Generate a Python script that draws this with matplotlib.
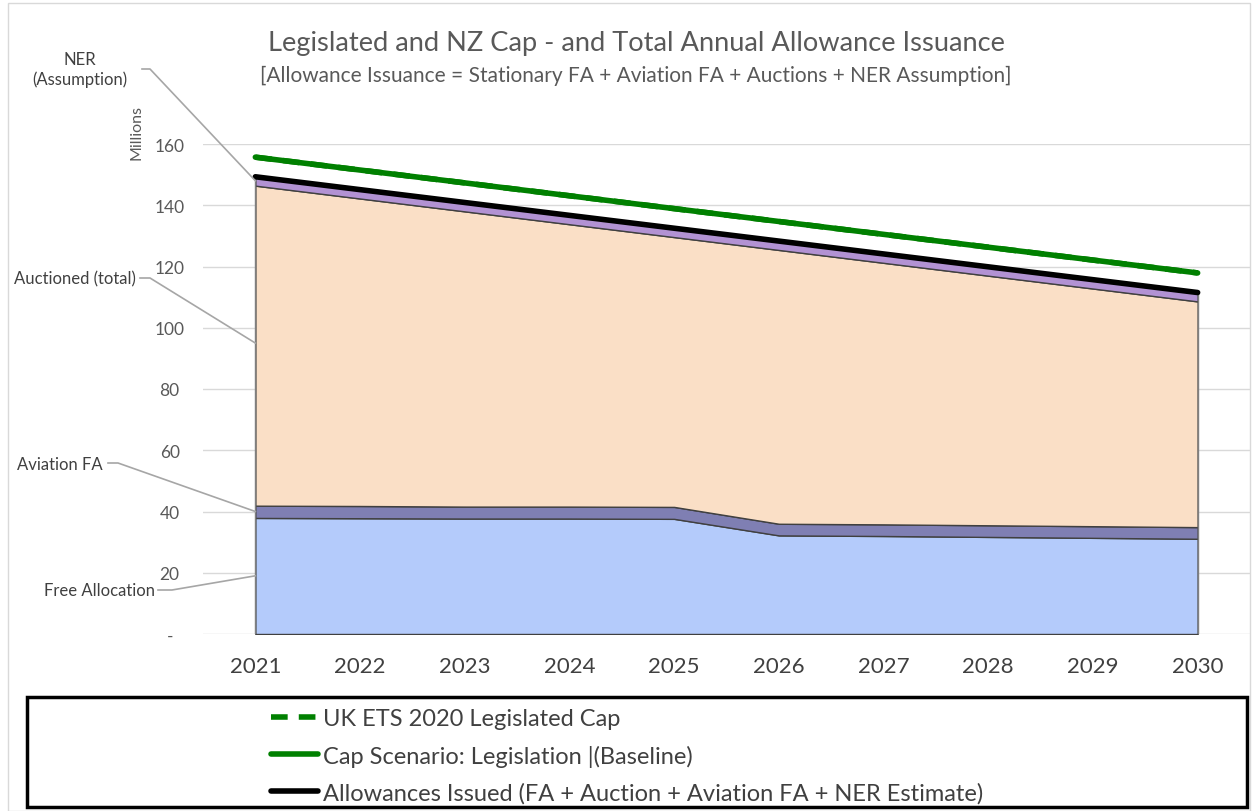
import matplotlib.pyplot as plt
from matplotlib.lines import Line2D
from matplotlib.patches import Rectangle

plt.rcParams['font.family'] = ['Lato', 'DejaVu Sans']

years = [2021, 2022, 2023, 2024, 2025, 2026, 2027, 2028, 2029, 2030]
free_allocation = [37.9, 37.8, 37.7, 37.7, 37.6, 32.2, 32.0, 31.7, 31.4, 31.1]
aviation_fa = [4.0, 4.0, 3.9, 3.9, 3.9, 3.8, 3.8, 3.8, 3.8, 3.8]
auctioned = [104.5, 100.4, 96.4, 92.2, 88.1, 89.4, 85.4, 81.5, 77.6, 73.7]
ner = [2.9, 2.9, 2.9, 2.9, 2.9, 2.9, 2.9, 2.9, 2.9, 2.9]
legislated_cap = [155.7, 151.5, 147.3, 143.1, 138.9, 134.7, 130.5, 126.3, 122.1, 117.9]
cap_baseline = [155.7, 151.5, 147.3, 143.1, 138.9, 134.7, 130.5, 126.3, 122.1, 117.9]

W, H = 1254, 812
fig = plt.figure(figsize=(W / 100, H / 100), dpi=100)
ax = fig.add_axes([203 / W, 1 - 635 / H, (1250 - 203) / W, (635 - 145) / H])

issued = [a + b + c + d for a, b, c, d in zip(free_allocation, aviation_fa, auctioned, ner)]

ax.stackplot(years, free_allocation, aviation_fa, auctioned, ner,
             colors=['#B4CBFB', '#7F7FB3', '#FADFC6', '#B292D3'],
             edgecolor='#404040', linewidth=1.0, zorder=2)
ax.vlines([years[0], years[-1]], 0, [issued[0], issued[-1]], color='#7F7F7F', lw=1, zorder=2)

ax.plot(years, legislated_cap, color='#008000', lw=4, ls=(0, (3, 2)), zorder=3,
        label='UK ETS 2020 Legislated Cap', solid_capstyle='round')
ax.plot(years, cap_baseline, color='#008000', lw=4, zorder=4,
        label='Cap Scenario: Legislation |(Baseline)', solid_capstyle='round')
ax.plot(years, issued, color='#000000', lw=4, zorder=5,
        label='Allowances Issued (FA + Auction + Aviation FA + NER Estimate)',
        solid_capstyle='round')

ax.set_xlim(2020.5, 2030.5)
ax.set_ylim(0, 160)
ax.set_yticks(range(0, 161, 20))
ax.set_yticklabels(['-'] + [str(v) for v in range(20, 161, 20)])
ax.set_xticks(years)
ax.grid(axis='y', color='#D9D9D9', lw=1, zorder=0)
ax.set_axisbelow(True)
for s in ax.spines.values():
    s.set_visible(False)
ax.tick_params(axis='y', length=0, labelsize=12.5, labelcolor='#595959', pad=24)
ax.tick_params(axis='x', length=0, labelsize=16, labelcolor='#404040', pad=16)
for lab in ax.get_yticklabels():
    lab.set_horizontalalignment('center')

fig.text(636 / W, 1 - 43 / H, 'Legislated and NZ Cap - and Total Annual Allowance Issuance',
         ha='center', va='center', fontsize=19.6, color='#595959')
fig.text(636 / W, 1 - 76 / H, '[Allowance Issuance = Stationary FA + Aviation FA + Auctions + NER Assumption]',
         ha='center', va='center', fontsize=15, color='#595959')
fig.text(137 / W, 1 - 133 / H, 'Millions', rotation=90, ha='center', va='center',
         fontsize=11.5, color='#595959')

# leader-line labels
labels = [
    ('NER\n(Assumption)', 80, 70, [(142, 70), (150, 70)], 148),
    ('Auctioned (total)', 75, 279, [(140, 279), (150, 279)], 95),
    ('Aviation FA', 60, 465, [(108, 464), (118, 464)], 40),
    ('Free Allocation', 99, 591, [(158, 591), (172, 591)], 19),
]
fig.canvas.draw()
for text, tx, ty, pts, yval in labels:
    fig.text(tx / W, 1 - ty / H, text, ha='center', va='center', fontsize=12,
             color='#404040', linespacing=1.3)
    ex, ey = ax.transData.transform((years[0], yval))
    xs = [p[0] for p in pts] + [ex]
    ys = [H - p[1] for p in pts] + [ey]
    fig.add_artist(Line2D(xs, ys, transform=None, color='#A6A6A6', lw=1.2))

# legend box
fig.add_artist(Rectangle((27 / W, 1 - 808 / H), (1247 - 27) / W, (808 - 698) / H,
                         transform=fig.transFigure, fill=False, ec='black', lw=2.5))
fig.add_artist(Rectangle((8 / W, 0), (1250 - 8) / W, 1 - 4 / H,
                         transform=fig.transFigure, fill=False, ec='#D9D9D9', lw=1))
fig.legend(loc='upper left', bbox_to_anchor=(250 / W, 1 - 688 / H), frameon=False,
           fontsize=17, labelcolor='#404040', handlelength=2.0, handletextpad=0.2,
           labelspacing=0.65)

fig.savefig('out.png', dpi=100)
